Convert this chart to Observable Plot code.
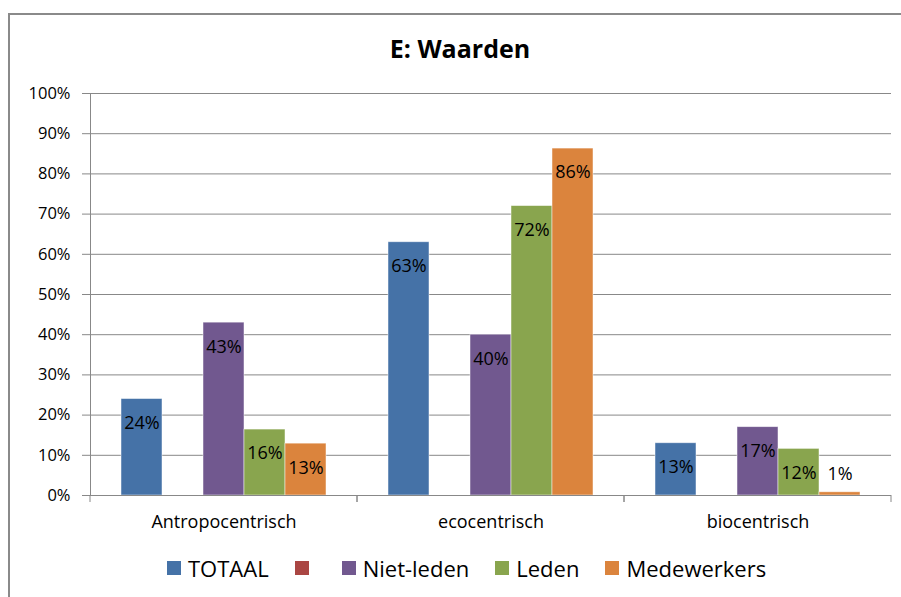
<!DOCTYPE html>
<html><head><meta charset="utf-8">
<script src="https://cdn.jsdelivr.net/npm/d3@7"></script>
<script src="https://cdn.jsdelivr.net/npm/@observablehq/plot@0.6"></script>
<style>
body{margin:0;background:#fff;width:901px;height:597px;overflow:hidden;position:relative;font-family:"Open Sans",sans-serif;color:#000;}
#frame{position:absolute;left:8px;top:13px;width:1000px;height:700px;border:2px solid #8a8a8a;box-sizing:border-box;}
#title{position:absolute;left:0;width:920px;top:31px;line-height:34px;text-align:center;font-weight:bold;font-size:25px;}
#chart{position:absolute;left:0;top:60px;}
#legend{position:absolute;left:167px;top:553px;height:30px;display:flex;align-items:center;font-size:22px;white-space:nowrap;}
#legend .item{display:flex;align-items:center;margin-right:26px;}
#legend .sw{width:14px;height:14px;margin-right:7px;}
</style>
</head><body>
<div id="frame"></div>
<div id="title">E: Waarden</div>
<div id="chart"></div>
<div id="legend"></div>
<script>
const groups = ["Antropocentrisch", "ecocentrisch", "biocentrisch"];
const seriesKeys = ["TOTAAL", "Reeks2", "Niet-leden", "Leden", "Medewerkers"];
const seriesLabels = ["TOTAAL", "", "Niet-leden", "Leden", "Medewerkers"];
const seriesColors = ["#4572A7", "#AA4643", "#71588F", "#89A54E", "#DB843D"];
const totaal = [24, 63, 13];
const reeks2 = [null, null, null];
const nietLeden = [43, 40, 17];
const leden = [16.4, 72, 11.6];
const medewerkers = [12.9, 86.3, 0.8];
const yTicks = [0, 10, 20, 30, 40, 50, 60, 70, 80, 90, 100];

const valuesBySeries = [totaal, reeks2, nietLeden, leden, medewerkers];
const data = [];
groups.forEach((g, gi) => seriesKeys.forEach((s, si) => {
  const v = valuesBySeries[si][gi];
  if (v != null) data.push({group: g, series: s, value: v});
}));

const boundaryTicks = (index, scales) => {
  const g = d3.create("svg:g").attr("stroke", "#888");
  const [r0, r1] = scales.x.range();
  const y0 = scales.y(0);
  for (const x of [r0, r1]) {
    g.append("line").attr("x1", x).attr("x2", x).attr("y1", y0).attr("y2", y0 + 7);
  }
  return g.node();
};

const chart = Plot.plot({
  width: 901,
  height: 480,
  marginLeft: 90,
  marginRight: 10,
  marginTop: 33,
  marginBottom: 45,
  style: {fontFamily: "Open Sans", fontSize: "16px", color: "#000", background: "transparent", overflow: "visible"},
  fx: {domain: groups, padding: 0, label: null},
  x: {domain: seriesKeys, paddingInner: 0, paddingOuter: 0.756, axis: null},
  y: {domain: [0, 100], label: null},
  color: {domain: seriesKeys, range: seriesColors},
  marks: [
    Plot.gridY(yTicks, {stroke: "#888", strokeOpacity: 1}),
    Plot.frame({anchor: "left", facetAnchor: "left", stroke: "#888"}),
    Plot.axisY(yTicks, {tickSize: 8, tickPadding: 12, tickFormat: d => d + "%", stroke: "#888", fill: "#000", fontSize: 16.5, label: null}),
    Plot.axisFx({anchor: "bottom", tickSize: 0, tickPadding: 20, fontSize: 18, fill: "#000", label: null}),
    Plot.barY(data, {fx: "group", x: "series", y: "value", fill: "series", stroke: "#fff", strokeOpacity: 0.6, strokeWidth: 0.8}),
    Plot.ruleY([0], {stroke: "#888"}),
    boundaryTicks,
    Plot.text(data, {fx: "group", x: "series", y: d => Math.max(d.value - 6, 5.2), text: d => Math.round(d.value) + "%", fontSize: 18, fill: "#000"})
  ]
});
document.getElementById("chart").appendChild(chart);

const legend = d3.select("#legend");
seriesKeys.forEach((s, i) => {
  const item = legend.append("div").attr("class", "item");
  item.append("div").attr("class", "sw").style("background", seriesColors[i]);
  item.append("span").text(seriesLabels[i]);
});
</script>
</body></html>
